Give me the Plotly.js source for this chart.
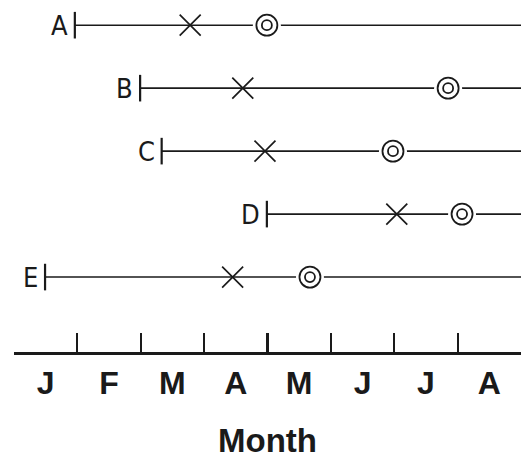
<!DOCTYPE html>
<html>
<head>
<meta charset="utf-8">
<script src="https://cdn.plot.ly/plotly-3.0.1.min.js"></script>
<style>html,body{margin:0;padding:0;background:#fff;}#chart{width:523px;height:459px;}</style>
</head>
<body>
<div id="chart"></div>
<script>
// Data (months: 0 = start of January)
const rowNames = ["A", "B", "C", "D", "E"];
const rowPos   = [5, 4, 3, 2, 1];
const startMonth = [0.96, 1.99, 2.33, 3.99, 0.49];
const crossMonth = [2.78, 3.61, 3.96, 6.04, 3.45];
const circleMonth = [3.99, 6.85, 5.98, 7.07, 4.67];
const endMonth = [8, 8, 8, 8, 8];
const monthLabels = ["J", "F", "M", "A", "M", "J", "J", "A"];
const monthCenters = [0.5, 1.5, 2.5, 3.5, 4.5, 5.5, 6.5, 7.5];
const monthBounds = [0, 1, 2, 3, 4, 5, 6, 7, 8];

const ink = "#1a1a1a";
const traces = [];

rowNames.forEach((n, i) => {
  traces.push({
    x: [startMonth[i], endMonth[i]], y: [rowPos[i], rowPos[i]],
    mode: "lines", line: {color: ink, width: 1.6}, hoverinfo: "skip", showlegend: false
  });
});
// start bars
traces.push({
  x: startMonth, y: rowPos, mode: "markers", showlegend: false, hoverinfo: "skip",
  marker: {symbol: "line-ns-open", size: 19, color: ink, line: {color: ink, width: 2.2}}
});
// crosses
traces.push({
  x: crossMonth, y: rowPos, mode: "markers", showlegend: false, hoverinfo: "skip",
  marker: {symbol: "x-thin-open", size: 21, color: ink, line: {color: ink, width: 1.7}}
});
// circle gap mask
traces.push({
  x: circleMonth, y: rowPos, mode: "markers", showlegend: false, hoverinfo: "skip",
  marker: {symbol: "circle", size: 28, color: "#fff", line: {width: 0}}
});
// outer ring
traces.push({
  x: circleMonth, y: rowPos, mode: "markers", showlegend: false, hoverinfo: "skip",
  marker: {symbol: "circle", size: 21, color: "#fff", line: {color: ink, width: 1.8}}
});
// inner ring
traces.push({
  x: circleMonth, y: rowPos, mode: "markers", showlegend: false, hoverinfo: "skip",
  marker: {symbol: "circle-open", size: 10, color: ink, line: {color: ink, width: 1.8}}
});
// invisible trace for boundary-tick axis
traces.push({
  x: monthBounds, y: monthBounds.map(() => 0), xaxis: "x2", mode: "markers",
  marker: {opacity: 0}, showlegend: false, hoverinfo: "skip"
});

const annotations = rowNames.map((n, i) => ({
  x: startMonth[i], y: rowPos[i], xref: "x", yref: "y", text: n,
  showarrow: false, xanchor: "right", yanchor: "middle", xshift: -5, yshift: 0,
  font: {family: "Liberation Sans Narrow, DejaVu Sans Condensed, sans-serif", size: 27, color: ink}
}));

const layout = {
  width: 523, height: 459,
  margin: {l: 14, r: 2, t: 0, b: 107},
  paper_bgcolor: "#fff", plot_bgcolor: "#fff",
  showlegend: false,
  xaxis: {
    range: [0, 8], showgrid: false, zeroline: false,
    showline: true, linecolor: ink, linewidth: 2.5,
    tickmode: "array", tickvals: monthCenters, ticktext: monthLabels,
    ticks: "", ticklabelstandoff: 1,
    tickfont: {family: "Liberation Sans, Arial, sans-serif", size: 32, color: ink, weight: "bold"},
    title: {text: "Month", standoff: 31,
      font: {family: "Liberation Sans, Arial, sans-serif", size: 33, color: ink, weight: "bold"}}
  },
  xaxis2: {
    range: [0, 8], overlaying: "x", anchor: "y", side: "bottom",
    showgrid: false, zeroline: false, showline: false,
    tickmode: "array", tickvals: monthBounds, ticks: "inside", ticklen: 19, tickwidth: 2.2,
    tickcolor: ink, showticklabels: false
  },
  yaxis: {range: [-0.19, 5.4], visible: false, showgrid: false, zeroline: false},
  annotations: annotations
};

Plotly.newPlot("chart", traces, layout, {displayModeBar: false, staticPlot: true});
</script>
</body>
</html>
